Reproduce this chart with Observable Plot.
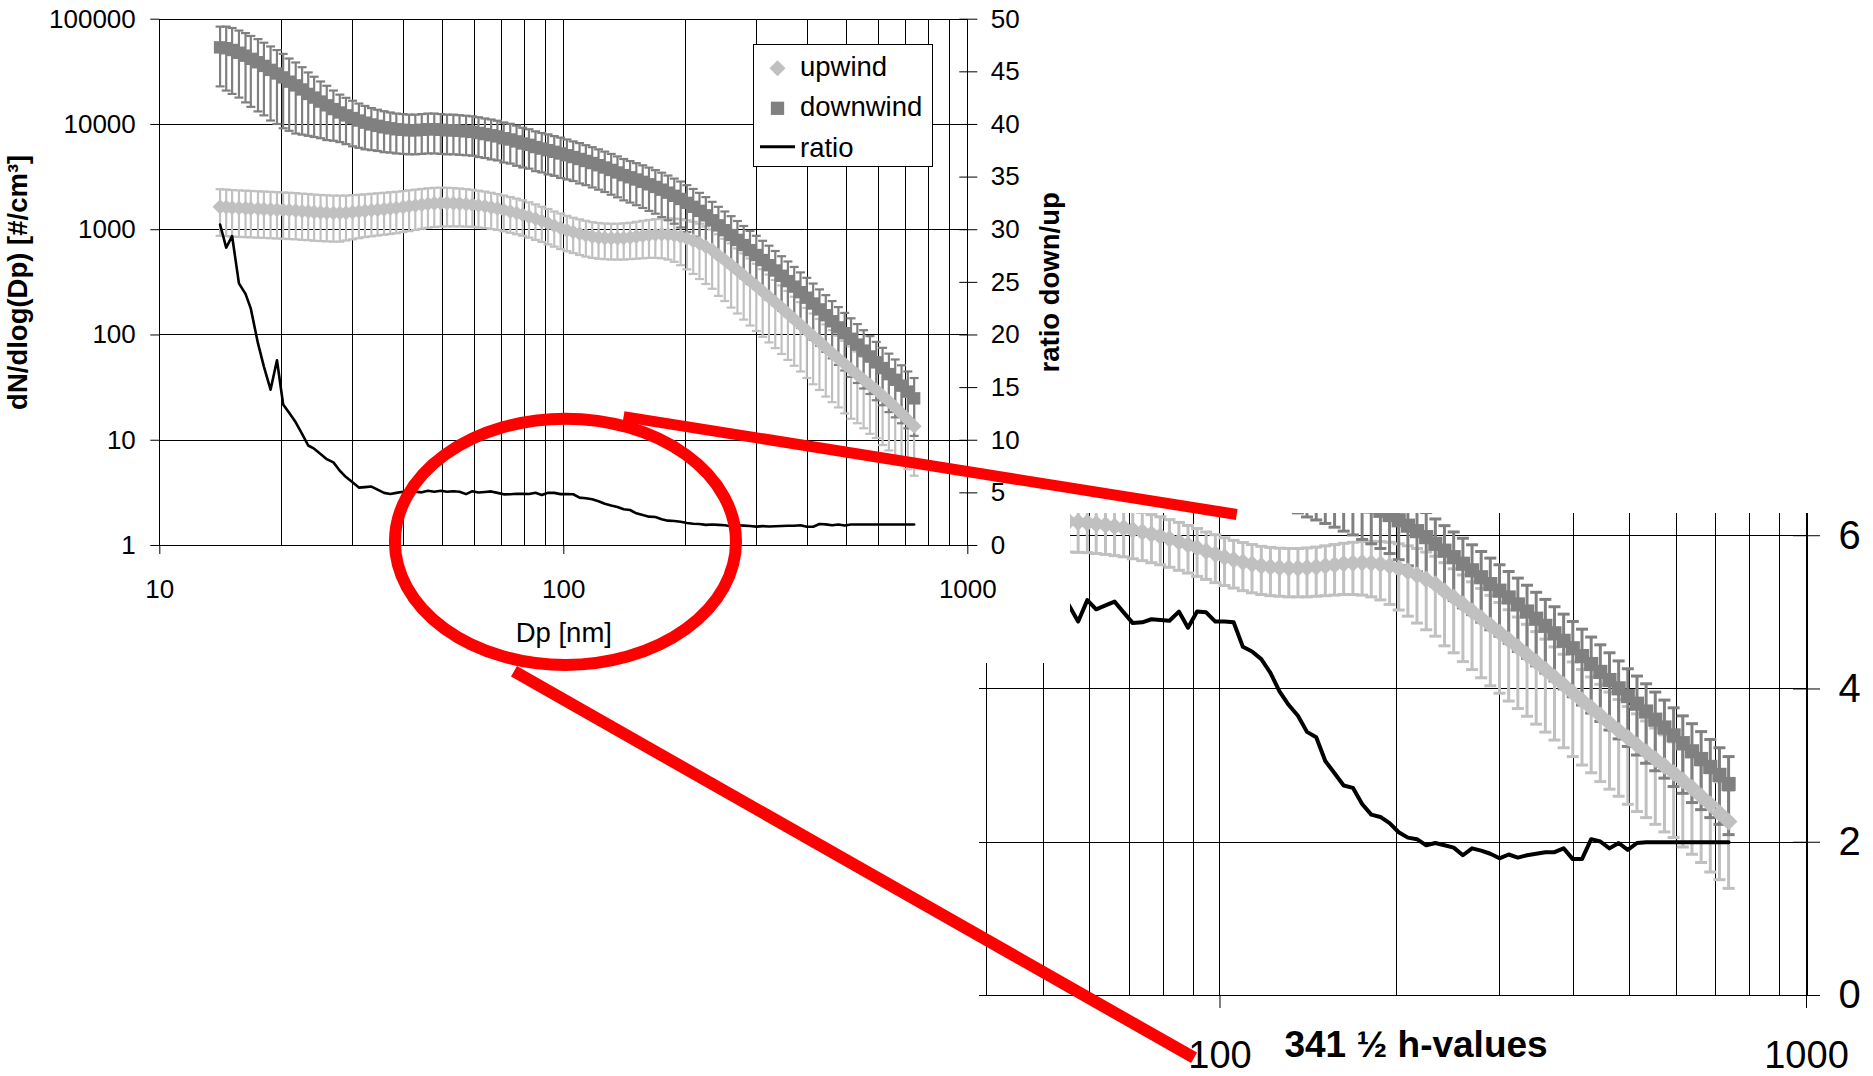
<!DOCTYPE html>
<html>
<head>
<meta charset="utf-8">
<script src="https://cdn.jsdelivr.net/npm/d3@7"></script>
<script src="https://cdn.jsdelivr.net/npm/@observablehq/plot@0.6"></script>
<style>
  html, body { margin: 0; padding: 0; background: #fff; }
  #page { position: relative; width: 1873px; height: 1076px; overflow: hidden; background: #fff; }
  #page > svg { position: absolute; max-width: none; }
</style>
</head>
<body>
<div id="page"></div>
<script>
// Particle size channels (nm), SMPS 64 channels per decade
const dp = [14.1, 14.6, 15.1, 15.7, 16.3, 16.8, 17.5, 18.1, 18.8, 19.5,
  20.2, 20.9, 21.7, 22.5, 23.3, 24.1, 25.0, 25.9, 26.9, 27.9,
  28.9, 30.0, 31.1, 32.2, 33.4, 34.6, 35.9, 37.2, 38.5, 40.0,
  41.4, 42.9, 44.5, 46.1, 47.8, 49.6, 51.4, 53.3, 55.2, 57.3,
  59.4, 61.5, 63.8, 66.1, 68.5, 71.0, 73.7, 76.4, 79.1, 82.0,
  85.1, 88.2, 91.4, 94.7, 98.2, 101.8, 105.5, 109.4, 113.4, 117.6,
  121.9, 126.3, 131.0, 135.8, 140.7, 145.9, 151.2, 156.8, 162.5, 168.5,
  174.7, 181.1, 187.7, 194.6, 201.7, 209.1, 216.7, 224.7, 232.9, 241.4,
  250.3, 259.5, 269.0, 278.8, 289.0, 299.6, 310.6, 322.0, 333.8, 346.0,
  358.7, 371.8, 385.4, 399.5, 414.2, 429.4, 445.1, 461.4, 478.3, 495.8,
  514.0, 532.8, 552.3, 572.5, 593.5, 615.3, 637.8, 661.2, 685.4, 710.5, 736.5];

// Upwind mean dN/dlog(Dp) [#/cm³] and standard deviation
const upwind = [1650, 1640, 1620, 1610, 1600, 1590, 1580, 1570, 1560, 1550,
  1540, 1530, 1520, 1500, 1490, 1470, 1460, 1450, 1440, 1440,
  1450, 1470, 1490, 1510, 1530, 1550, 1570, 1590, 1610, 1640,
  1670, 1700, 1730, 1760, 1780, 1790, 1790, 1780, 1770, 1750,
  1730, 1700, 1670, 1630, 1590, 1540, 1490, 1440, 1390, 1330,
  1270, 1210, 1150, 1090, 1040, 990, 950, 915, 885, 860,
  845, 835, 830, 830, 835, 845, 860, 875, 890, 900,
  905, 900, 885, 860, 825, 785, 740, 690, 640, 570,
  515, 462, 412, 368, 328, 292, 259, 230, 204, 181,
  160, 141, 125, 110, 97, 86, 76, 67, 59.5, 53,
  47, 42, 37.5, 33.5, 30, 26.5, 23.5, 20.5, 18, 15.6, 13.6];
const upwindSd = [775, 770, 760, 755, 750, 745, 740, 735, 730, 725,
  720, 715, 710, 700, 695, 685, 680, 675, 670, 670,
  660, 660, 660, 660, 665, 670, 675, 680, 685, 690,
  700, 705, 710, 715, 720, 720, 715, 705, 695, 680,
  665, 650, 635, 615, 595, 575, 555, 535, 515, 490,
  470, 445, 425, 400, 385, 365, 350, 340, 330, 320,
  315, 310, 310, 310, 315, 320, 330, 340, 350, 360,
  370, 380, 390, 400, 405, 405, 400, 385, 365, 335,
  305, 280, 252, 228, 205, 183, 163, 145, 129, 115,
  102, 90, 80, 71, 63, 56, 50, 44, 39, 35,
  31, 27.5, 24.5, 22, 19.5, 17.5, 15.5, 13.5, 12, 10.3, 9];

// Downwind mean dN/dlog(Dp) [#/cm³] and standard deviation
const downwind = [54000, 53000, 51000, 48000, 45000, 42000, 39000, 36000, 33000, 30500,
  28000, 25500, 23500, 21500, 19500, 18000, 16500, 15200, 14000, 13000,
  12200, 11500, 10900, 10400, 10000, 9700, 9400, 9200, 9000, 8900,
  8800, 8800, 8900, 9000, 9000, 8900, 8800, 8800, 8700, 8600,
  8500, 8300, 8100, 7900, 7700, 7400, 7200, 6900, 6600, 6400,
  6100, 5900, 5700, 5500, 5300, 5100, 4900, 4700, 4500, 4300,
  4100, 3900, 3700, 3500, 3300, 3150, 3000, 2850, 2700, 2550,
  2400, 2250, 2100, 1960, 1800, 1650, 1510, 1370, 1230, 1100,
  990, 890, 800, 715, 640, 575, 515, 460, 410, 365,
  325, 288, 255, 226, 199, 175, 154, 135, 118, 104,
  92, 81, 71, 62.5, 55, 48.5, 42.5, 37.5, 33, 29, 25];
const downwindSd = [31000, 32000, 31500, 30000, 28800, 27300, 25700, 23800, 22100, 20400,
  18800, 16800, 15300, 13500, 11700, 10400, 9100, 8100, 7000, 6200,
  5700, 5300, 4900, 4600, 4300, 4100, 3950, 3800, 3700, 3650,
  3600, 3600, 3650, 3700, 3700, 3650, 3600, 3600, 3550, 3500,
  3450, 3400, 3300, 3250, 3150, 3050, 2950, 2850, 2700, 2600,
  2500, 2400, 2350, 2250, 2200, 2100, 2000, 1950, 1850, 1780,
  1700, 1620, 1550, 1470, 1400, 1340, 1290, 1240, 1190, 1130,
  1080, 1020, 960, 910, 850, 790, 730, 670, 610, 550,
  500, 455, 410, 370, 335, 300, 270, 245, 218, 195,
  174, 155, 138, 123, 109, 96, 85, 75, 66, 58,
  52, 46, 40, 35, 31, 27, 24, 21, 18.5, 16, 14];

// Ratio downwind / upwind
const ratio = [30.5, 28.3, 29.4, 24.9, 23.9, 22.5, 19.2, 17.0, 14.8, 17.6,
  13.4, 12.6, 11.7, 10.6, 9.5, 9.2, 8.7, 8.2, 7.9, 7.1,
  6.5, 6.0, 5.5, 5.55, 5.6, 5.3, 5.0, 4.9, 5.0, 5.1,
  5.0, 5.1, 5.05, 5.2, 5.1, 5.2, 5.1, 5.15, 5.1, 4.88,
  5.16, 5.04, 5.09, 5.14, 5.0, 4.86, 4.87, 4.91, 4.90, 4.89,
  5.01, 4.80, 5.01, 5.0, 4.88, 4.88, 4.87, 4.55, 4.49, 4.39,
  4.21, 3.97, 3.79, 3.65, 3.44, 3.37, 3.06, 2.90, 2.74, 2.71,
  2.50, 2.36, 2.33, 2.25, 2.13, 2.06, 2.04, 1.96, 1.99, 1.96,
  1.93, 1.83, 1.92, 1.89, 1.85, 1.79, 1.84, 1.80, 1.83, 1.85,
  1.87, 1.87, 1.92, 1.78, 1.78, 2.04, 2.01, 1.92, 1.99, 1.90,
  1.99, 2.0, 2.0, 2.0, 2.0, 2.0, 2.0, 2.0, 2.0, 2.0, 2.0];

// Tick and grid values
const mainGrid = [10, 20, 30, 40, 50, 60, 70, 80, 90, 100, 200, 300, 400, 500, 600, 700, 800, 900, 1000];
const mainXTicks = [10, 100, 1000];
const decades = [1, 10, 100, 1000, 10000, 100000];
const ratioTicks = [0, 5, 10, 15, 20, 25, 30, 35, 40, 45, 50];
const insetGrid = [40, 50, 60, 70, 80, 90, 100, 200, 300, 400, 500, 600, 700, 800, 900, 1000];
const insetXTicks = [100, 1000];
const insetRatioTicks = [0, 2, 4, 6];

const seriesNames = ["upwind", "downwind", "ratio"];
const insetTitle = "341 ½ h-values";

// Zoom annotation, given in the data units of the two charts
const zoomEllipse = { dp: [38.3, 267.6], ratio: [-11.4, 12.0] };
const leaders = [
  { from: { dp: 141, ratio: 12.2 }, to: { dp: 107, ratio: 6.27 }, width: 11 },
  { from: { dp: 75.5, ratio: -12.0 }, to: { dp: 90.5, ratio: -0.82 }, width: 12 }
];

const rows = dp.map((d, i) => ({
  dp: d, up: upwind[i], upSd: upwindSd[i], down: downwind[i], downSd: downwindSd[i], ratio: ratio[i]
}));

const FONT = 'Arial, "Liberation Sans", Helvetica, sans-serif';
const LIGHT = "#c0c0c0", DARK = "#808080";
const page = document.getElementById("page");

// horizontal error-bar cap
const capSymbol = {
  draw(ctx, size) { const w = Math.sqrt(size / Math.PI); ctx.moveTo(-w, 0); ctx.lineTo(w, 0); }
};

function seriesMarks(o) {
  const c = o.clip;
  const bars = (key, sd, color) => [
    Plot.ruleX(rows, { x: "dp", y1: d => d[key] - d[sd], y2: d => d[key] + d[sd], stroke: color, strokeWidth: o.bar, clip: c }),
    Plot.dot(rows, { x: "dp", y: d => d[key] - d[sd], symbol: capSymbol, r: o.cap, stroke: color, strokeWidth: o.bar, fill: "none", clip: c }),
    Plot.dot(rows, { x: "dp", y: d => d[key] + d[sd], symbol: capSymbol, r: o.cap, stroke: color, strokeWidth: o.bar, fill: "none", clip: c })
  ];
  return [
    ...bars("up", "upSd", LIGHT),
    ...bars("down", "downSd", DARK),
    Plot.dot(rows, { x: "dp", y: "down", symbol: "square", r: o.sq, fill: DARK, stroke: "none", clip: c }),
    Plot.dot(rows, { x: "dp", y: "up", symbol: "diamond2", r: o.di, fill: LIGHT, stroke: "none", clip: c })
  ];
}

function place(el, left, top) {
  el.style.position = "absolute";
  el.style.left = left + "px";
  el.style.top = top + "px";
  el.style.maxWidth = "none";
  page.appendChild(el);
}

// ---------- inset (zoomed view) ----------
const iW = 913, iH = 596;
const iM = { marginLeft: 19, marginRight: 67, marginTop: 33, marginBottom: 81 };
const insetX = { type: "log", domain: [38.9, 1000], axis: null };

const insetGridPlot = Plot.plot({
  width: iW, height: iH, ...iM,
  style: { background: "white", fontFamily: FONT, overflow: "visible" },
  x: insetX,
  y: { domain: [0, 6.29], axis: null },
  marks: [
    Plot.ruleX(insetGrid, { stroke: "#000", strokeWidth: d => d === 1000 ? 2 : 1, shapeRendering: "crispEdges" }),
    Plot.ruleY(insetRatioTicks, { stroke: "#000", strokeWidth: 1, shapeRendering: "crispEdges" }),
    Plot.axisY({ anchor: "right", ticks: insetRatioTicks, tickSize: 27, dx: -14, tickPadding: 19, fontSize: 40, label: null, tickFormat: d => String(d) }),
    Plot.axisX({ anchor: "bottom", ticks: insetXTicks, tickSize: 13, tickPadding: 33, fontSize: 38, label: null, tickFormat: d => String(d) }),
    Plot.text([insetTitle], { text: d => d, frameAnchor: "bottom", textAnchor: "middle", lineAnchor: "middle", dx: 23, dy: 50, fontWeight: "bold", fontSize: 37 })
  ]
});
place(insetGridPlot, 960, 480);

const insetDataPlot = Plot.plot({
  width: iW, height: iH, ...iM,
  style: { background: "transparent", fontFamily: FONT },
  x: insetX,
  y: { type: "log", domain: [0.81, 2010], axis: null },
  marks: seriesMarks({ bar: 3, cap: 6, sq: 8, di: 8, clip: true })
});
place(insetDataPlot, 960, 480);

const insetRatioPlot = Plot.plot({
  width: iW, height: iH, ...iM,
  style: { background: "transparent", fontFamily: FONT },
  x: insetX,
  y: { domain: [0, 6.29], axis: null },
  marks: [Plot.line(rows, { x: "dp", y: "ratio", stroke: "#000", strokeWidth: 4, clip: true })]
});
place(insetRatioPlot, 960, 480);

// ---------- main chart ----------
const mW = 1070, mH = 663;
const mM = { marginLeft: 159.3, marginRight: mW - 967.3, marginTop: 18.7, marginBottom: mH - 545 };
const mainX = { type: "log", domain: [10, 1000], axis: null };

const mainPlot = Plot.plot({
  width: mW, height: mH, ...mM,
  style: { background: "white", fontFamily: FONT, overflow: "visible" },
  x: mainX,
  y: { type: "log", domain: [1, 100000], axis: null },
  marks: [
    Plot.ruleX(mainGrid, { stroke: "#000", strokeWidth: 1, shapeRendering: "crispEdges" }),
    Plot.ruleY(decades, { stroke: "#000", strokeWidth: 1, shapeRendering: "crispEdges" }),
    Plot.axisY({ anchor: "left", ticks: decades, tickSize: 9, tickPadding: 15, fontSize: 26, label: null, tickFormat: d => String(d) }),
    Plot.axisX({ anchor: "bottom", ticks: mainXTicks, tickSize: 9, tickPadding: 25, fontSize: 26, label: null, tickFormat: d => String(d) }),
    ...seriesMarks({ bar: 2.2, cap: 4.5, sq: 7, di: 6.8, clip: false }),
    Plot.text(["dN/dlog(Dp) [#/cm³]"], { text: d => d, frameAnchor: "left", textAnchor: "middle", lineAnchor: "middle", dx: -142, rotate: -90, fontWeight: "bold", fontSize: 27.5 }),
    Plot.text(["Dp [nm]"], { text: d => d, frameAnchor: "bottom", textAnchor: "middle", lineAnchor: "middle", dy: 88, fontSize: 27.5 })
  ]
});
place(mainPlot, 0, 0);

const mainRatioPlot = Plot.plot({
  width: mW, height: mH, ...mM,
  style: { background: "transparent", fontFamily: FONT, overflow: "visible" },
  x: mainX,
  y: { domain: [0, 50], axis: null },
  marks: [
    Plot.line(rows, { x: "dp", y: "ratio", stroke: "#000", strokeWidth: 2.6 }),
    Plot.axisY({ anchor: "right", ticks: ratioTicks, tickSize: 18, dx: -9, tickPadding: 14, fontSize: 26, label: null, tickFormat: d => String(d) }),
    Plot.text(["ratio down/up"], { text: d => d, frameAnchor: "right", textAnchor: "middle", lineAnchor: "middle", dx: 82, rotate: -90, fontWeight: "bold", fontSize: 27.5 })
  ]
});
place(mainRatioPlot, 0, 0);

// ---------- legend ----------
const legend = d3.create("svg").attr("width", 181).attr("height", 124)
  .style("font-family", FONT).style("font-size", "27.5px");
legend.append("rect").attr("x", 0.5).attr("y", 0.5).attr("width", 179).attr("height", 122)
  .attr("fill", "white").attr("stroke", "#000").attr("stroke-width", 1);
legend.append("path").attr("transform", "translate(24.5,24.3)")
  .attr("d", d3.symbol(d3.symbolDiamond2, Math.PI * 7.2 * 7.2)()).attr("fill", LIGHT);
legend.append("path").attr("transform", "translate(24.5,64.3)")
  .attr("d", d3.symbol(d3.symbolSquare, Math.PI * 7.5 * 7.5)()).attr("fill", DARK);
legend.append("line").attr("x1", 7).attr("x2", 42).attr("y1", 102.7).attr("y2", 102.7)
  .attr("stroke", "#000").attr("stroke-width", 3);
[22.6, 62.6, 103.6].forEach((y, i) => {
  legend.append("text").attr("x", 47).attr("y", y).attr("dy", "0.35em").text(seriesNames[i]);
});
place(legend.node(), 753, 44);

// ---------- zoom annotation ----------
const mx = mainPlot.scale("x"), my = mainRatioPlot.scale("y");
const ix = insetRatioPlot.scale("x"), iy = insetRatioPlot.scale("y");
const mainPt = p => [mx.apply(p.dp), my.apply(p.ratio)];
const insetPt = p => [ix.apply(p.dp) + 960, iy.apply(p.ratio) + 480];

const note = d3.create("svg").attr("width", 1873).attr("height", 1076).style("pointer-events", "none");
const ex = zoomEllipse.dp.map(v => mx.apply(v));
const ey = zoomEllipse.ratio.map(v => my.apply(v));
note.append("ellipse")
  .attr("cx", (ex[0] + ex[1]) / 2).attr("cy", (ey[0] + ey[1]) / 2)
  .attr("rx", Math.abs(ex[1] - ex[0]) / 2).attr("ry", Math.abs(ey[1] - ey[0]) / 2)
  .attr("fill", "none").attr("stroke", "#ff0000").attr("stroke-width", 12);
leaders.forEach(l => {
  const a = mainPt(l.from), b = insetPt(l.to);
  note.append("line").attr("x1", a[0]).attr("y1", a[1]).attr("x2", b[0]).attr("y2", b[1])
    .attr("stroke", "#ff0000").attr("stroke-width", l.width);
});
place(note.node(), 0, 0);
</script>
</body>
</html>
